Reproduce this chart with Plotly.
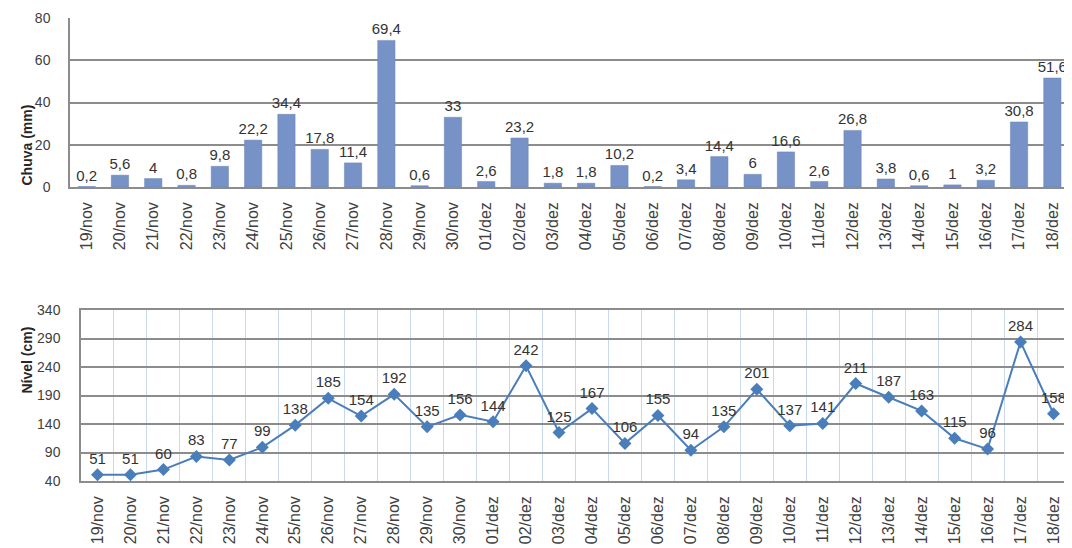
import plotly.graph_objects as go
from plotly.subplots import make_subplots

dates = ["19/nov","20/nov","21/nov","22/nov","23/nov","24/nov","25/nov","26/nov","27/nov","28/nov",
         "29/nov","30/nov","01/dez","02/dez","03/dez","04/dez","05/dez","06/dez","07/dez","08/dez",
         "09/dez","10/dez","11/dez","12/dez","13/dez","14/dez","15/dez","16/dez","17/dez","18/dez"]
chuva = [0.2,5.6,4,0.8,9.8,22.2,34.4,17.8,11.4,69.4,0.6,33,2.6,23.2,1.8,1.8,10.2,0.2,3.4,14.4,
         6,16.6,2.6,26.8,3.8,0.6,1,3.2,30.8,51.6]
nivel = [51,51,60,83,77,99,138,185,154,192,135,156,144,242,125,167,106,155,94,135,
         201,137,141,211,187,163,115,96,284,158]
chuva_ticks = [0,20,40,60,80]
nivel_ticks = [40,90,140,190,240,290,340]

# page has an 8px body margin; work in figure coordinates = page - 8
OFF = 8
W, H = 1072 - OFF, 548 - OFF
FONT = "Liberation Sans"
TXT = "#333333"
n = len(dates)
xr = [-0.5, n - 0.5]

def px(x):
    return (x - OFF) / W

def py(y):
    return (H - (y - OFF)) / H

def fmt(v):
    return f"{v:g}".replace(".", ",")

fig = make_subplots(rows=2, cols=1)

fig.add_trace(go.Bar(
    x=dates, y=chuva, width=0.52,
    marker=dict(color="#7792c6", line=dict(color="#6a84b5", width=0.5)),
    text=[fmt(v) for v in chuva], textposition="outside", constraintext="none",
    textfont=dict(family=FONT, size=15, color=TXT),
    cliponaxis=False, showlegend=False), row=1, col=1)

fig.add_trace(go.Scatter(
    x=dates, y=nivel, mode="lines+markers+text",
    line=dict(color="#4a7ebb", width=2),
    marker=dict(symbol="diamond", size=10, color="#4a7ebb"),
    text=[fmt(v) for v in nivel], textposition="top center",
    textfont=dict(family=FONT, size=15, color=TXT),
    cliponaxis=False, showlegend=False), row=2, col=1)

xtickfont = dict(family=FONT, size=16, color="#404040")
ytickfont = dict(family=FONT, size=14, color="#404040")

fig.update_layout(
    width=W, height=H,
    margin=dict(l=0, r=0, t=0, b=0),
    paper_bgcolor="white", plot_bgcolor="white",
    font=dict(family=FONT),
    xaxis=dict(domain=[px(70), px(1069)], type="category", range=xr, tickangle=-90,
               tickfont=xtickfont, showgrid=False, showline=True, linecolor="#8c8c8c", linewidth=1.5,
               ticks="", ticklabelstandoff=7, automargin=False),
    yaxis=dict(domain=[py(187), py(18)], range=[0, 80], tickvals=chuva_ticks,
               tickfont=ytickfont, showgrid=True, gridcolor="#8c8c8c", gridwidth=1.5,
               showline=True, linecolor="#8c8c8c", linewidth=1.5, zeroline=False,
               ticks="", ticklabelstandoff=15, automargin=False),
    xaxis2=dict(domain=[px(81), px(1070)], type="category", range=xr, tickangle=-90,
                tickfont=xtickfont, showgrid=True, gridcolor="#c9d8ec", gridwidth=1,
                tickson="boundaries", showline=True, linecolor="#8c8c8c", linewidth=1.5,
                mirror=True, ticks="", ticklabelstandoff=7, automargin=False),
    yaxis2=dict(domain=[py(481), py(310)], range=[40, 340], tickvals=nivel_ticks,
                tickfont=ytickfont, showgrid=True, gridcolor="#8c8c8c", gridwidth=1.5,
                showline=True, linecolor="#8c8c8c", linewidth=1.5, zeroline=False,
                ticks="", ticklabelstandoff=16, automargin=False),
)

fig.add_annotation(text="<b>Chuva (mm)</b>", xref="paper", yref="paper",
                   x=px(16), y=py(103), textangle=-90, showarrow=False,
                   font=dict(family=FONT, size=14, color="#262626"))
fig.add_annotation(text="<b>Nível (cm)</b>", xref="paper", yref="paper",
                   x=px(16), y=py(396), textangle=-90, showarrow=False,
                   font=dict(family=FONT, size=14, color="#262626"))

fig.write_html("out.html")
